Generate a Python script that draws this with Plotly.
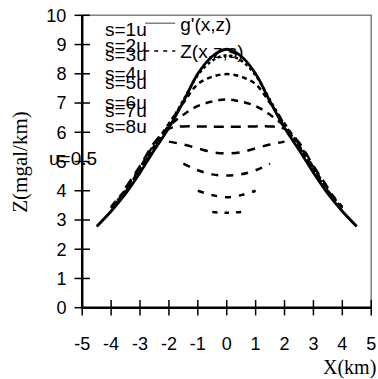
import plotly.graph_objects as go

# ---- data ----
x_solid = [-4.5, -4, -3.5, -3, -2.5, -2, -1.5, -1, -0.5, 0, 0.5, 1, 1.5, 2, 2.5, 3, 3.5, 4, 4.5]
g_solid = [2.78, 3.3, 3.9, 4.62, 5.4, 6.15, 7.05, 8.0, 8.6, 8.84, 8.6, 8.0, 7.05, 6.15, 5.4, 4.62, 3.9, 3.3, 2.78]

x_s1 = [-4, -3.5, -3, -2.5, -2, -1.5, -1, -0.5, 0, 0.5, 1, 1.5, 2, 2.5, 3, 3.5, 4]
z_s1 = [3.4, 3.98, 4.72, 5.5, 6.25, 7.1, 7.95, 8.45, 8.63, 8.45, 7.95, 7.1, 6.25, 5.5, 4.72, 3.98, 3.4]
x_s2 = [-4, -3.5, -3, -2.5, -2, -1.5, -1, -0.5, 0, 0.5, 1, 1.5, 2, 2.5, 3, 3.5, 4]
z_s2 = [3.42, 4.0, 4.75, 5.55, 6.3, 7.0, 7.65, 7.9, 7.99, 7.9, 7.65, 7.0, 6.3, 5.55, 4.75, 4.0, 3.42]
x_s3 = [-4, -3.5, -3, -2.5, -2, -1.5, -1, -0.5, 0, 0.5, 1, 1.5, 2, 2.5, 3, 3.5, 4]
z_s3 = [3.45, 4.05, 4.8, 5.6, 6.2, 6.6, 6.9, 7.05, 7.12, 7.05, 6.9, 6.6, 6.2, 5.6, 4.8, 4.05, 3.45]
x_s4 = [-3.5, -3, -2.5, -2, -1.5, -1, -0.5, 0, 0.5, 1, 1.5, 2, 2.5, 3, 3.5]
z_s4 = [4.1, 4.85, 5.65, 6.12, 6.2, 6.2, 6.19, 6.19, 6.19, 6.2, 6.2, 6.12, 5.65, 4.85, 4.1]
x_s5 = [-2, -1.5, -1, -0.5, 0, 0.5, 1, 1.5, 2]
z_s5 = [5.68, 5.58, 5.45, 5.32, 5.28, 5.32, 5.45, 5.58, 5.68]
x_s6 = [-1.5, -1, -0.5, 0, 0.5, 1, 1.5]
z_s6 = [4.93, 4.7, 4.56, 4.52, 4.56, 4.7, 4.93]
x_s7 = [-1, -0.5, 0, 0.5, 1]
z_s7 = [4.0, 3.85, 3.78, 3.85, 4.0]
x_s8 = [-0.5, 0, 0.5]
z_s8 = [3.27, 3.25, 3.27]

s_labels = ["s=1u", "s=2u", "s=3u", "s=4u", "s=5u", "s=6u", "s=7u", "s=8u"]
x_ticks = [-5, -4, -3, -2, -1, 0, 1, 2, 3, 4, 5]
y_ticks = [0, 1, 2, 3, 4, 5, 6, 7, 8, 9, 10]

SANS = "Liberation Sans, Arial, sans-serif"
SERIF = "Liberation Serif, Times New Roman, serif"

xmin, xmax = x_ticks[0], x_ticks[-1]
ymin, ymax = y_ticks[0], y_ticks[-1]
pad_l, pad_r, pad_b, pad_t = 0.25, 0.2, 0.25, 0.25  # range padding keeps the frame inside the plot area

fig = go.Figure()

# ---- frame: gray top/right border, black left/bottom axes, crossing tick marks ----
fig.add_trace(go.Scatter(x=[xmin, xmax, xmax], y=[ymax, ymax, ymin], mode="lines",
                         line=dict(color="#808080", width=1.5), showlegend=False, hoverinfo="skip"))
fig.add_trace(go.Scatter(x=[xmin, xmin, xmax], y=[ymax, ymin, ymin], mode="lines",
                         line=dict(color="black", width=2.5), showlegend=False, hoverinfo="skip"))
fig.add_trace(go.Scatter(x=x_ticks, y=[ymin] * len(x_ticks), mode="markers", cliponaxis=False,
                         marker=dict(symbol="line-ns", size=11, color="black", line=dict(color="black", width=1.5)),
                         showlegend=False, hoverinfo="skip"))
fig.add_trace(go.Scatter(x=[xmin] * len(y_ticks), y=y_ticks, mode="markers", cliponaxis=False,
                         marker=dict(symbol="line-ew", size=11, color="black", line=dict(color="black", width=1.5)),
                         showlegend=False, hoverinfo="skip"))

# ---- curves ----
dashed = [
    (x_s1, z_s1, "3px,3px"),
    (x_s2, z_s2, "5px,4px"),
    (x_s3, z_s3, "7px,6px"),
    (x_s4, z_s4, "10px,7px"),
    (x_s5, z_s5, "8px,8px"),
    (x_s6, z_s6, "7px,8px"),
    (x_s7, z_s7, "6px,8px"),
    (x_s8, z_s8, "5px,7px"),
]
for xs, zs, d in dashed:
    fig.add_trace(go.Scatter(x=xs, y=zs, mode="lines", line=dict(color="black", width=2.5, dash=d, shape="spline"),
                             showlegend=False, hoverinfo="skip"))

fig.add_trace(go.Scatter(x=x_solid, y=g_solid, mode="lines", line=dict(color="black", width=2.8, shape="spline"),
                         showlegend=False, hoverinfo="skip"))

# legend entries
fig.add_trace(go.Scatter(x=[None], y=[None], mode="lines", name="g'(x,z)", line=dict(color="#808080", width=1.5)))
fig.add_trace(go.Scatter(x=[None], y=[None], mode="lines", name="Z(x,z,s)", line=dict(color="black", width=1.5, dash="4px,5px")))

# pixel geometry: x=-5 at 82 px, 28.9 px/unit; y=0 at 308 px, 29.3 px/unit
XS, YS = 28.9, 29.3
L = 82 - pad_l * XS
W = (xmax - xmin + pad_l + pad_r) * XS
T = 15 - pad_t * YS
H = (ymax - ymin + pad_t + pad_b) * YS

def px2paper_x(px):
    return (px - L) / W

def px2paper_y(py):
    return (T + H - py) / H

ann = []
label_y = [29, 45, 54, 73.5, 82, 102, 110, 126.5]
for t, py in zip(s_labels, label_y):
    ann.append(dict(text=t, x=px2paper_x(103), y=px2paper_y(py), xref="paper", yref="paper",
                    xanchor="left", yanchor="middle", showarrow=False, font=dict(family=SANS, size=19, color="black")))
ann.append(dict(text="u=0.5", x=px2paper_x(47), y=px2paper_y(158), xref="paper", yref="paper",
                xanchor="left", yanchor="middle", showarrow=False, font=dict(family=SANS, size=19, color="black")))
ann.append(dict(text="Z(mgal/km)", x=px2paper_x(19.5), y=px2paper_y(162), xref="paper", yref="paper",
                xanchor="center", yanchor="middle", textangle=-90, showarrow=False,
                font=dict(family=SERIF, size=21, color="black")))
ann.append(dict(text="X(km)", x=px2paper_x(349), y=px2paper_y(368), xref="paper", yref="paper",
                xanchor="center", yanchor="middle", showarrow=False,
                font=dict(family=SERIF, size=20, color="black")))

fig.update_layout(
    width=378, height=379,
    margin=dict(l=L, r=378 - L - W, t=T, b=379 - T - H, autoexpand=False),
    paper_bgcolor="white", plot_bgcolor="white",
    showlegend=True,
    legend=dict(x=px2paper_x(140), y=px2paper_y(4), xanchor="left", yanchor="top",
                bgcolor="rgba(0,0,0,0)", font=dict(family=SANS, size=19, color="black"),
                borderwidth=0),
    annotations=ann,
    xaxis=dict(range=[xmin - pad_l, xmax + pad_r], tickvals=x_ticks, ticktext=[str(v) for v in x_ticks],
               showgrid=False, zeroline=False, showline=False, ticks="outside", ticklen=5,
               tickcolor="rgba(0,0,0,0)", tickfont=dict(family=SANS, size=18, color="black"),
               ticklabelstandoff=7),
    yaxis=dict(range=[ymin - pad_b, ymax + pad_t], tickvals=y_ticks, ticktext=[str(v) for v in y_ticks],
               showgrid=False, zeroline=False, showline=False, ticks="outside", ticklen=5,
               tickcolor="rgba(0,0,0,0)", tickfont=dict(family=SANS, size=18, color="black"),
               ticklabelstandoff=-1),
)

fig.write_html("out.html", config={"staticPlot": True})
